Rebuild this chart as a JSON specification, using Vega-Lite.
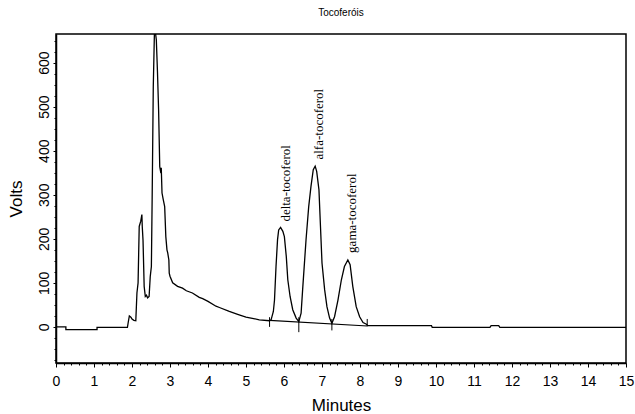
{
  "$schema": "https://vega.github.io/schema/vega-lite/v6.json",
  "width": 570,
  "height": 329,
  "autosize": "none",
  "padding": {"left": 56, "top": 34, "right": 9, "bottom": 51},
  "background": "white",
  "title": {"text": "Tocoferóis", "fontSize": 10, "font": "Liberation Sans", "fontWeight": "normal", "color": "black", "offset": 16, "anchor": "middle"},
  "config": {
    "view": {"stroke": "black", "strokeWidth": 1.5},
    "axis": {"grid": false, "domainColor": "black", "tickColor": "black", "labelColor": "black", "titleColor": "black", "labelFont": "Liberation Sans", "titleFont": "Liberation Sans", "titleFontWeight": "normal"}
  },
  "resolve": {"axis": {"x": "independent", "y": "independent"}},
  "datasets": {
    "trace": [
      {"min": 0, "v": 0}, {"min": 0.26, "v": 0}, {"min": 0.26, "v": -6}, {"min": 1.08, "v": -6}, {"min": 1.08, "v": -1},
      {"min": 1.88, "v": -1}, {"min": 1.9, "v": 10}, {"min": 1.93, "v": 25}, {"min": 1.97, "v": 22}, {"min": 2.0, "v": 18},
      {"min": 2.05, "v": 15}, {"min": 2.1, "v": 14}, {"min": 2.13, "v": 77}, {"min": 2.16, "v": 100}, {"min": 2.19, "v": 228},
      {"min": 2.23, "v": 240}, {"min": 2.26, "v": 255}, {"min": 2.27, "v": 228}, {"min": 2.29, "v": 197}, {"min": 2.32, "v": 92},
      {"min": 2.35, "v": 69}, {"min": 2.38, "v": 72}, {"min": 2.41, "v": 66}, {"min": 2.45, "v": 69}, {"min": 2.48, "v": 114},
      {"min": 2.51, "v": 137}, {"min": 2.53, "v": 289}, {"min": 2.56, "v": 546}, {"min": 2.59, "v": 668}, {"min": 2.62, "v": 666},
      {"min": 2.64, "v": 652}, {"min": 2.67, "v": 580}, {"min": 2.7, "v": 493}, {"min": 2.73, "v": 364}, {"min": 2.76, "v": 349},
      {"min": 2.77, "v": 361}, {"min": 2.79, "v": 304}, {"min": 2.82, "v": 290}, {"min": 2.86, "v": 273}, {"min": 2.89, "v": 205},
      {"min": 2.92, "v": 175}, {"min": 2.94, "v": 168}, {"min": 2.97, "v": 152}, {"min": 2.98, "v": 122}, {"min": 3.0, "v": 115},
      {"min": 3.07, "v": 100}, {"min": 3.2, "v": 92}, {"min": 3.33, "v": 88}, {"min": 3.43, "v": 82}, {"min": 3.59, "v": 77},
      {"min": 3.77, "v": 67}, {"min": 3.86, "v": 64}, {"min": 4.0, "v": 58}, {"min": 4.21, "v": 47}, {"min": 4.3, "v": 44},
      {"min": 4.56, "v": 35}, {"min": 4.8, "v": 28}, {"min": 5.0, "v": 22}, {"min": 5.2, "v": 19}, {"min": 5.35, "v": 16},
      {"min": 5.62, "v": 14}, {"min": 5.66, "v": 16}, {"min": 5.72, "v": 35}, {"min": 5.75, "v": 61}, {"min": 5.79, "v": 137},
      {"min": 5.83, "v": 198}, {"min": 5.86, "v": 220}, {"min": 5.91, "v": 226}, {"min": 5.97, "v": 217}, {"min": 6.01, "v": 205},
      {"min": 6.06, "v": 160}, {"min": 6.1, "v": 107}, {"min": 6.16, "v": 69}, {"min": 6.23, "v": 39}, {"min": 6.32, "v": 20},
      {"min": 6.39, "v": 12}, {"min": 6.45, "v": 31}, {"min": 6.49, "v": 84}, {"min": 6.58, "v": 198}, {"min": 6.65, "v": 273},
      {"min": 6.71, "v": 319}, {"min": 6.77, "v": 357}, {"min": 6.82, "v": 365}, {"min": 6.86, "v": 353}, {"min": 6.92, "v": 311},
      {"min": 6.96, "v": 228}, {"min": 7.0, "v": 145}, {"min": 7.07, "v": 84}, {"min": 7.13, "v": 46}, {"min": 7.2, "v": 20},
      {"min": 7.26, "v": 8}, {"min": 7.33, "v": 23}, {"min": 7.42, "v": 61}, {"min": 7.51, "v": 107}, {"min": 7.59, "v": 137},
      {"min": 7.68, "v": 152}, {"min": 7.74, "v": 141}, {"min": 7.81, "v": 92}, {"min": 7.9, "v": 46}, {"min": 7.99, "v": 23},
      {"min": 8.08, "v": 10}, {"min": 8.17, "v": 6}, {"min": 8.2, "v": 3}, {"min": 9.88, "v": 3}, {"min": 9.9, "v": -1},
      {"min": 11.42, "v": -1}, {"min": 11.45, "v": 3}, {"min": 11.65, "v": 3}, {"min": 11.68, "v": -1}, {"min": 15, "v": -1}
    ],
    "baseline": [{"min": 5.62, "v": 15}, {"min": 8.2, "v": 2}],
    "marks": [
      {"min": 5.62, "lo": 0, "hi": 22},
      {"min": 6.39, "lo": -12, "hi": 22},
      {"min": 7.26, "lo": -8, "hi": 18},
      {"min": 8.19, "lo": 3, "hi": 18}
    ],
    "labels": [
      {"min": 6.06, "v": 239, "name": "delta-tocoferol"},
      {"min": 6.93, "v": 380, "name": "alfa-tocoferol"},
      {"min": 7.8, "v": 168, "name": "gama-tocoferol"}
    ]
  },
  "layer": [
    {
      "data": {"name": "trace"},
      "mark": {"type": "line", "color": "black", "strokeWidth": 1.3, "clip": true, "interpolate": "linear"},
      "encoding": {
        "x": {
          "field": "min", "type": "quantitative",
          "scale": {"domain": [0, 15], "nice": false, "zero": false},
          "axis": {
            "orient": "bottom",
            "title": "Minutes", "titleFontSize": 17, "titlePadding": 9,
            "values": [0,1,2,3,4,5,6,7,8,9,10,11,12,13,14,15],
            "labelFontSize": 14, "labelOverlap": false, "labelFlush": false, "labelPadding": 7,
            "domainWidth": 1.5, "tickSize": 4, "tickWidth": 1
          }
        },
        "y": {
          "field": "v", "type": "quantitative",
          "scale": {"domain": [-82, 665], "nice": false, "zero": false},
          "axis": {
            "orient": "left",
            "title": "Volts", "titleFontSize": 17, "titlePadding": 12,
            "values": [0,100,200,300,400,500,600],
            "labelAngle": -90, "labelAlign": "center", "labelBaseline": "bottom",
            "labelFontSize": 14, "labelOverlap": false, "labelFlush": false, "labelPadding": 2,
            "domainWidth": 1.5, "tickSize": 3, "tickWidth": 1
          }
        }
      }
    },
    {
      "data": {"name": "baseline"},
      "mark": {"type": "line", "color": "black", "strokeWidth": 1.2},
      "encoding": {
        "x": {
          "field": "min", "type": "quantitative",
          "axis": {
            "orient": "bottom", "title": null, "labels": false, "domain": false,
            "values": [0.2,0.4,0.6,0.8,1.2,1.4,1.6,1.8,2.2,2.4,2.6,2.8,3.2,3.4,3.6,3.8,4.2,4.4,4.6,4.8,5.2,5.4,5.6,5.8,6.2,6.4,6.6,6.8,7.2,7.4,7.6,7.8,8.2,8.4,8.6,8.8,9.2,9.4,9.6,9.8,10.2,10.4,10.6,10.8,11.2,11.4,11.6,11.8,12.2,12.4,12.6,12.8,13.2,13.4,13.6,13.8,14.2,14.4,14.6,14.8],
            "tickSize": 2, "tickWidth": 1
          }
        },
        "y": {
          "field": "v", "type": "quantitative",
          "axis": {
            "orient": "left", "title": null, "labels": false, "domain": false,
            "values": [-75,-50,-25,25,50,75,125,150,175,225,250,275,325,350,375,425,450,475,525,550,575,625,650],
            "tickSize": 2, "tickWidth": 1
          }
        }
      }
    },
    {
      "data": {"name": "marks"},
      "mark": {"type": "rule", "color": "black", "strokeWidth": 1},
      "encoding": {
        "x": {"field": "min", "type": "quantitative", "axis": null},
        "y": {"field": "lo", "type": "quantitative", "axis": null},
        "y2": {"field": "hi"}
      }
    },
    {
      "data": {"name": "labels"},
      "mark": {"type": "text", "angle": 270, "align": "left", "baseline": "middle", "font": "Liberation Serif", "fontSize": 13, "color": "black"},
      "encoding": {
        "x": {"field": "min", "type": "quantitative", "axis": null},
        "y": {"field": "v", "type": "quantitative", "axis": null},
        "text": {"field": "name"}
      }
    }
  ]
}
